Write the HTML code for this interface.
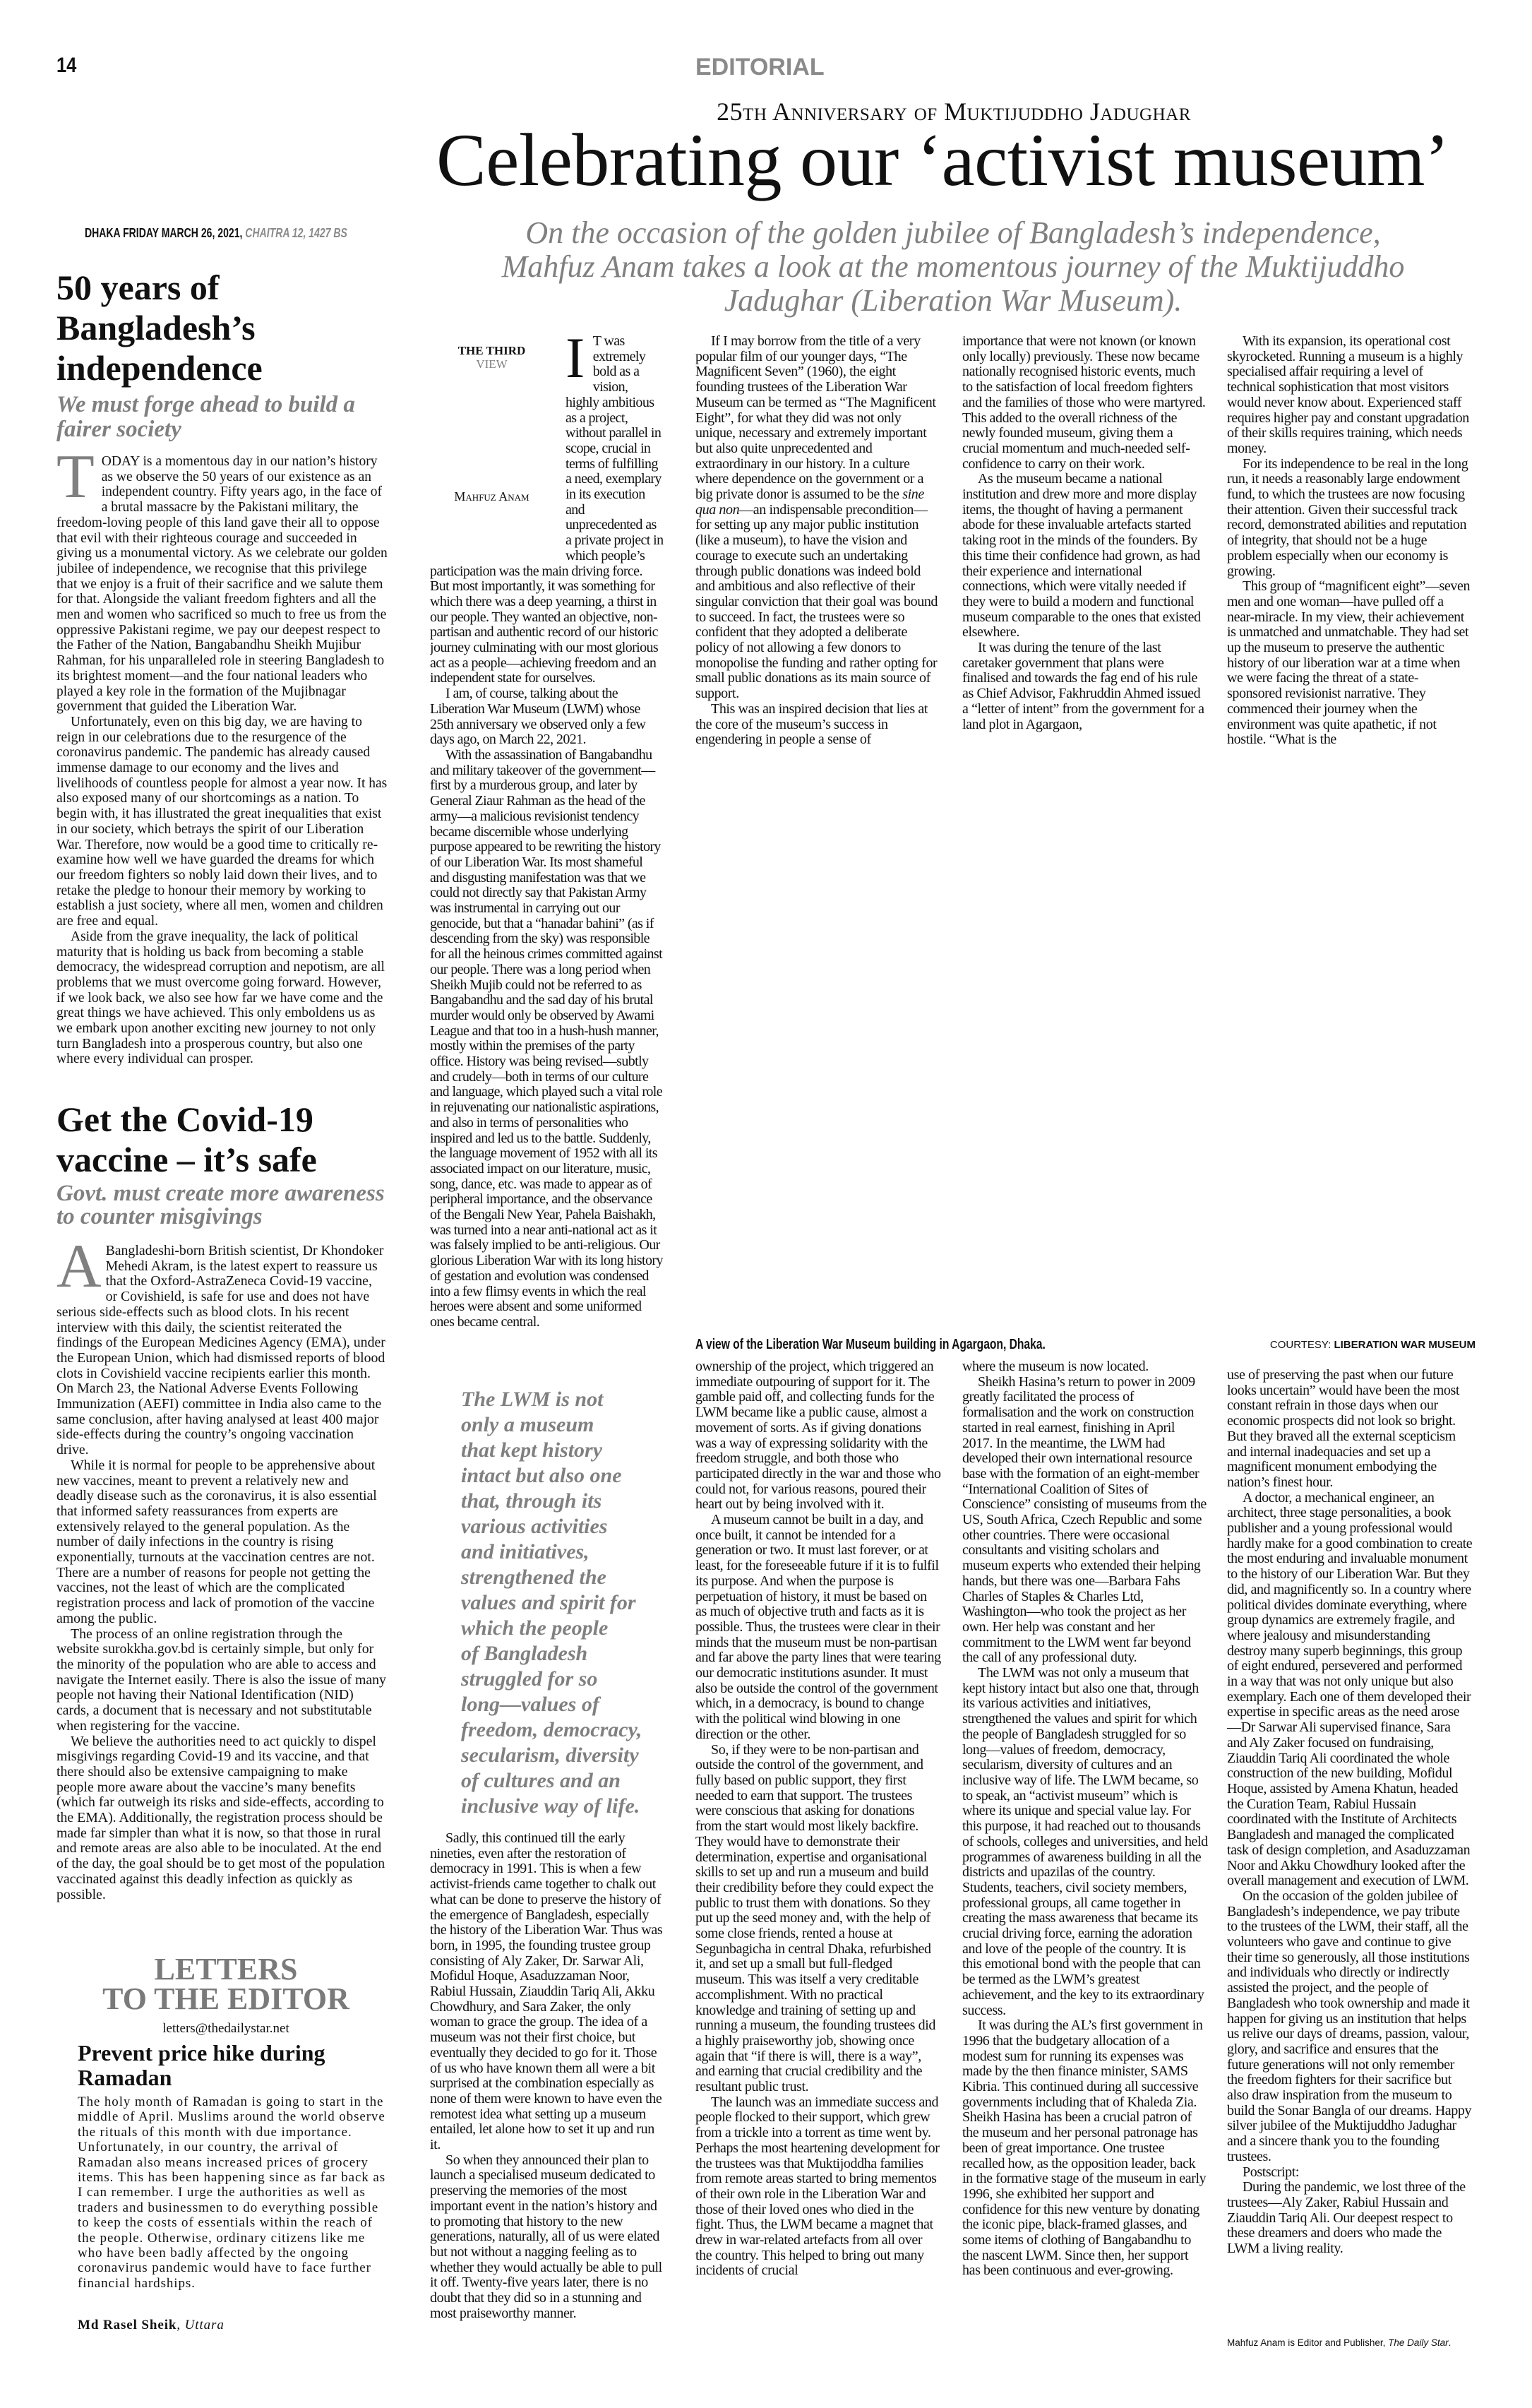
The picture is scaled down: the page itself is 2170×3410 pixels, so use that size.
<!DOCTYPE html>
<html><head><meta charset="utf-8">
<style>
html,body{margin:0;padding:0;background:#fff;}
body{width:2170px;height:3410px;position:relative;overflow:hidden;font-family:"Liberation Serif",serif;color:#111;}
.a{position:absolute;}
.col{position:absolute;overflow:hidden;font-size:20px;line-height:21.7px;letter-spacing:-0.4px;}
.col p{margin:0;text-indent:22px;}
.col p.ni{text-indent:0;}
.lc{position:absolute;overflow:hidden;font-size:19.8px;line-height:21.7px;}
.lc p{margin:0;text-indent:20px;}
.lc p.ni{text-indent:0;}
.gray{color:#808080;}
</style></head><body>

<div class="a" style="left:80px;top:78px;font-family:'Liberation Sans',sans-serif;font-weight:bold;font-size:30px;line-height:30px;transform:scaleX(0.85);transform-origin:left;">14</div>
<div class="a" style="left:985px;top:78px;font-family:'Liberation Sans',sans-serif;font-weight:bold;font-size:34px;line-height:34px;color:#8a8a8a;">EDITORIAL</div>

<div class="a" style="left:0;width:2702px;top:138px;text-align:center;font-size:36px;line-height:40px;font-variant:small-caps;letter-spacing:0.5px;white-space:nowrap;">25th Anniversary of Muktijuddho Jadughar</div>

<div class="a" style="left:618px;top:174px;font-size:106px;line-height:106px;white-space:nowrap;letter-spacing:-0.5px;">Celebrating our ‘activist museum’</div>

<div class="a" style="left:550px;width:1600px;top:306px;text-align:center;font-style:italic;font-size:44px;line-height:48px;color:#808080;white-space:nowrap;">On the occasion of the golden jubilee of Bangladesh’s independence,<br>Mahfuz Anam takes a look at the momentous journey of the Muktijuddho<br>Jadughar (Liberation War Museum).</div>

<div class="a" style="left:120px;top:319px;font-family:'Liberation Sans',sans-serif;font-weight:bold;font-size:18px;line-height:22px;white-space:nowrap;transform:scaleX(0.78);transform-origin:left;">DHAKA FRIDAY MARCH 26, 2021, <i style="color:#8a8a8a">CHAITRA 12, 1427 BS</i></div>

<div class="a" style="left:80px;top:379px;width:480px;font-weight:bold;font-size:50px;line-height:57px;">50 years of<br>Bangladesh’s<br>independence</div>
<div class="a" style="left:80px;top:556px;width:480px;font-weight:bold;font-style:italic;font-size:33px;line-height:35px;color:#808080;">We must forge ahead to build a<br>fairer society</div>
<div class="lc" style="left:80px;top:643px;width:470px;height:870px;font-size:19.5px;">
<p class="ni"><span style="float:left;font-size:88px;line-height:62px;height:64px;color:#808080;margin:2px 10px 0 0;">T</span>ODAY is a momentous day in our nation’s history as we observe the 50 years of our existence as an independent country. Fifty years ago, in the face of a brutal massacre by the Pakistani military, the freedom-loving people of this land gave their all to oppose that evil with their righteous courage and succeeded in giving us a monumental victory. As we celebrate our golden jubilee of independence, we recognise that this privilege that we enjoy is a fruit of their sacrifice and we salute them for that. Alongside the valiant freedom fighters and all the men and women who sacrificed so much to free us from the oppressive Pakistani regime, we pay our deepest respect to the Father of the Nation, Bangabandhu Sheikh Mujibur Rahman, for his unparalleled role in steering Bangladesh to its brightest moment—and the four national leaders who played a key role in the formation of the Mujibnagar government that guided the Liberation War.</p>
<p>Unfortunately, even on this big day, we are having to reign in our celebrations due to the resurgence of the coronavirus pandemic. The pandemic has already caused immense damage to our economy and the lives and livelihoods of countless people for almost a year now. It has also exposed many of our shortcomings as a nation. To begin with, it has illustrated the great inequalities that exist in our society, which betrays the spirit of our Liberation War. Therefore, now would be a good time to critically re-examine how well we have guarded the dreams for which our freedom fighters so nobly laid down their lives, and to retake the pledge to honour their memory by working to establish a just society, where all men, women and children are free and equal.</p>
<p>Aside from the grave inequality, the lack of political maturity that is holding us back from becoming a stable democracy, the widespread corruption and nepotism, are all problems that we must overcome going forward. However, if we look back, we also see how far we have come and the great things we have achieved. This only emboldens us as we embark upon another exciting new journey to not only turn Bangladesh into a prosperous country, but also one where every individual can prosper.</p>
</div>

<div class="a" style="left:80px;top:1557px;width:480px;font-weight:bold;font-size:50px;line-height:57px;">Get the Covid-19<br>vaccine – it’s safe</div>
<div class="a" style="left:80px;top:1674px;width:480px;font-weight:bold;font-style:italic;font-size:33px;line-height:33px;color:#808080;">Govt. must create more awareness<br>to counter misgivings</div>
<div class="lc" style="left:80px;top:1761px;width:468px;height:935px;">
<p class="ni"><span style="float:left;font-size:88px;line-height:62px;height:64px;color:#808080;margin:2px 6px 0 0;">A</span>Bangladeshi-born British scientist, Dr Khondoker Mehedi Akram, is the latest expert to reassure us that the Oxford-AstraZeneca Covid-19 vaccine, or Covishield, is safe for use and does not have serious side-effects such as blood clots. In his recent interview with this daily, the scientist reiterated the findings of the European Medicines Agency (EMA), under the European Union, which had dismissed reports of blood clots in Covishield vaccine recipients earlier this month. On March 23, the National Adverse Events Following Immunization (AEFI) committee in India also came to the same conclusion, after having analysed at least 400 major side-effects during the country’s ongoing vaccination drive.</p>
<p>While it is normal for people to be apprehensive about new vaccines, meant to prevent a relatively new and deadly disease such as the coronavirus, it is also essential that informed safety reassurances from experts are extensively relayed to the general population. As the number of daily infections in the country is rising exponentially, turnouts at the vaccination centres are not. There are a number of reasons for people not getting the vaccines, not the least of which are the complicated registration process and lack of promotion of the vaccine among the public.</p>
<p>The process of an online registration through the website surokkha.gov.bd is certainly simple, but only for the minority of the population who are able to access and navigate the Internet easily. There is also the issue of many people not having their National Identification (NID) cards, a document that is necessary and not substitutable when registering for the vaccine.</p>
<p>We believe the authorities need to act quickly to dispel misgivings regarding Covid-19 and its vaccine, and that there should also be extensive campaigning to make people more aware about the vaccine’s many benefits (which far outweigh its risks and side-effects, according to the EMA). Additionally, the registration process should be made far simpler than what it is now, so that those in rural and remote areas are also able to be inoculated. At the end of the day, the goal should be to get most of the population vaccinated against this deadly infection as quickly as possible.</p>
</div>

<div class="a" style="left:80px;width:480px;top:2768px;text-align:center;font-weight:bold;font-size:44px;line-height:42px;color:#7a7a7a;">LETTERS<br>TO THE EDITOR</div>
<div class="a" style="left:80px;width:480px;top:2862px;text-align:center;font-size:19px;line-height:22px;">letters@thedailystar.net</div>
<div class="a" style="left:110px;top:2890px;width:460px;font-weight:bold;font-size:32px;line-height:35px;">Prevent price hike during<br>Ramadan</div>
<div class="a" style="left:110px;top:2966px;width:440px;font-size:19px;line-height:21.4px;letter-spacing:0.9px;">The holy month of Ramadan is going to start in the middle of April. Muslims around the world observe the rituals of this month with due importance. Unfortunately, in our country, the arrival of Ramadan also means increased prices of grocery items. This has been happening since as far back as I can remember. I urge the authorities as well as traders and businessmen to do everything possible to keep the costs of essentials within the reach of the people. Otherwise, ordinary citizens like me who have been badly affected by the ongoing coronavirus pandemic would have to face further financial hardships.</div>
<div class="a" style="left:110px;top:3282px;font-size:19px;line-height:22px;letter-spacing:0.9px;"><b>Md Rasel Sheik</b>, <i>Uttara</i></div>

<div class="col" style="left:609px;top:473px;width:332px;height:1447px;letter-spacing:-0.6px;">
<div style="float:left;width:192px;height:304px;position:relative;">
<div style="position:absolute;left:0;width:175px;top:14px;text-align:center;font-weight:bold;font-size:17px;line-height:19px;letter-spacing:0;">THE THIRD<br><span style="color:#808080;font-weight:normal;">VIEW</span></div>
<div style="position:absolute;left:0;width:175px;top:220px;text-align:center;font-size:18px;line-height:20px;font-variant:small-caps;letter-spacing:0;">Mahfuz Anam</div>
</div>
<p class="ni"><span style="float:left;font-size:82px;line-height:60px;height:62px;margin:4px 12px 0 0;">I</span>T was extremely bold as a vision, highly ambitious as a project, without parallel in scope, crucial in terms of fulfilling a need, exemplary in its execution and unprecedented as a private project in which people’s participation was the main driving force. But most importantly, it was something for which there was a deep yearning, a thirst in our people. They wanted an objective, non-partisan and authentic record of our historic journey culminating with our most glorious act as a people—achieving freedom and an independent state for ourselves.</p>
<p>I am, of course, talking about the Liberation War Museum (LWM) whose 25th anniversary we observed only a few days ago, on March 22, 2021.</p>
<p>With the assassination of Bangabandhu and military takeover of the government—first by a murderous group, and later by General Ziaur Rahman as the head of the army—a malicious revisionist tendency became discernible whose underlying purpose appeared to be rewriting the history of our Liberation War. Its most shameful and disgusting manifestation was that we could not directly say that Pakistan Army was instrumental in carrying out our genocide, but that a “hanadar bahini” (as if descending from the sky) was responsible for all the heinous crimes committed against our people. There was a long period when Sheikh Mujib could not be referred to as Bangabandhu and the sad day of his brutal murder would only be observed by Awami League and that too in a hush-hush manner, mostly within the premises of the party office. History was being revised—subtly and crudely—both in terms of our culture and language, which played such a vital role in rejuvenating our nationalistic aspirations, and also in terms of personalities who inspired and led us to the battle. Suddenly, the language movement of 1952 with all its associated impact on our literature, music, song, dance, etc. was made to appear as of peripheral importance, and the observance of the Bengali New Year, Pahela Baishakh, was turned into a near anti-national act as it was falsely implied to be anti-religious. Our glorious Liberation War with its long history of gestation and evolution was condensed into a few flimsy events in which the real heroes were absent and some uniformed ones became central.</p>
</div>

<div class="a" style="left:653px;top:1964px;width:300px;font-weight:bold;font-style:italic;font-size:30px;line-height:36px;color:#808080;white-space:nowrap;">The LWM is not<br>only a museum<br>that kept history<br>intact but also one<br>that, through its<br>various activities<br>and initiatives,<br>strengthened the<br>values and spirit for<br>which the people<br>of Bangladesh<br>struggled for so<br>long—values of<br>freedom, democracy,<br>secularism, diversity<br>of cultures and an<br>inclusive way of life.</div>

<div class="col" style="left:609px;top:2593px;width:330px;height:765px;">
<p>Sadly, this continued till the early nineties, even after the restoration of democracy in 1991. This is when a few activist-friends came together to chalk out what can be done to preserve the history of the emergence of Bangladesh, especially the history of the Liberation War. Thus was born, in 1995, the founding trustee group consisting of Aly Zaker, Dr. Sarwar Ali, Mofidul Hoque, Asaduzzaman Noor, Rabiul Hussain, Ziauddin Tariq Ali, Akku Chowdhury, and Sara Zaker, the only woman to grace the group. The idea of a museum was not their first choice, but eventually they decided to go for it. Those of us who have known them all were a bit surprised at the combination especially as none of them were known to have even the remotest idea what setting up a museum entailed, let alone how to set it up and run it.</p>
<p>So when they announced their plan to launch a specialised museum dedicated to preserving the memories of the most important event in the nation’s history and to promoting that history to the new generations, naturally, all of us were elated but not without a nagging feeling as to whether they would actually be able to pull it off. Twenty-five years later, there is no doubt that they did so in a stunning and most praiseworthy manner.</p>
</div>

<div class="col" style="left:985px;top:473px;width:348px;height:610px;">
<p>If I may borrow from the title of a very popular film of our younger days, “The Magnificent Seven” (1960), the eight founding trustees of the Liberation War Museum can be termed as “The Magnificent Eight”, for what they did was not only unique, necessary and extremely important but also quite unprecedented and extraordinary in our history. In a culture where dependence on the government or a big private donor is assumed to be the <i>sine qua non</i>—an indispensable precondition—for setting up any major public institution (like a museum), to have the vision and courage to execute such an undertaking through public donations was indeed bold and ambitious and also reflective of their singular conviction that their goal was bound to succeed. In fact, the trustees were so confident that they adopted a deliberate policy of not allowing a few donors to monopolise the funding and rather opting for small public donations as its main source of support.</p>
<p>This was an inspired decision that lies at the core of the museum’s success in engendering in people a sense of</p>
</div>

<div class="col" style="left:1363px;top:473px;width:348px;height:610px;">
<p class="ni">importance that were not known (or known only locally) previously. These now became nationally recognised historic events, much to the satisfaction of local freedom fighters and the families of those who were martyred. This added to the overall richness of the newly founded museum, giving them a crucial momentum and much-needed self-confidence to carry on their work.</p>
<p>As the museum became a national institution and drew more and more display items, the thought of having a permanent abode for these invaluable artefacts started taking root in the minds of the founders. By this time their confidence had grown, as had their experience and international connections, which were vitally needed if they were to build a modern and functional museum comparable to the ones that existed elsewhere.</p>
<p>It was during the tenure of the last caretaker government that plans were finalised and towards the fag end of his rule as Chief Advisor, Fakhruddin Ahmed issued a “letter of intent” from the government for a land plot in Agargaon,</p>
</div>

<div class="col" style="left:1738px;top:473px;width:348px;height:605px;">
<p>With its expansion, its operational cost skyrocketed. Running a museum is a highly specialised affair requiring a level of technical sophistication that most visitors would never know about. Experienced staff requires higher pay and constant upgradation of their skills requires training, which needs money.</p>
<p>For its independence to be real in the long run, it needs a reasonably large endowment fund, to which the trustees are now focusing their attention. Given their successful track record, demonstrated abilities and reputation of integrity, that should not be a huge problem especially when our economy is growing.</p>
<p>This group of “magnificent eight”—seven men and one woman—have pulled off a near-miracle. In my view, their achievement is unmatched and unmatchable. They had set up the museum to preserve the authentic history of our liberation war at a time when we were facing the threat of a state-sponsored revisionist narrative. They commenced their journey when the environment was quite apathetic, if not hostile. “What is the</p>
</div>

<div class="a" style="left:985px;top:1892px;font-family:'Liberation Sans',sans-serif;font-weight:bold;font-size:20px;line-height:24px;white-space:nowrap;transform:scaleX(0.78);transform-origin:left;">A view of the Liberation War Museum building in Agargaon, Dhaka.</div>
<div class="a" style="right:80px;top:1896px;font-family:'Liberation Sans',sans-serif;font-size:15px;line-height:18px;white-space:nowrap;">COURTESY: <b>LIBERATION WAR MUSEUM</b></div>

<div class="col" style="left:985px;top:1925px;width:348px;height:1433px;">
<p class="ni">ownership of the project, which triggered an immediate outpouring of support for it. The gamble paid off, and collecting funds for the LWM became like a public cause, almost a movement of sorts. As if giving donations was a way of expressing solidarity with the freedom struggle, and both those who participated directly in the war and those who could not, for various reasons, poured their heart out by being involved with it.</p>
<p>A museum cannot be built in a day, and once built, it cannot be intended for a generation or two. It must last forever, or at least, for the foreseeable future if it is to fulfil its purpose. And when the purpose is perpetuation of history, it must be based on as much of objective truth and facts as it is possible. Thus, the trustees were clear in their minds that the museum must be non-partisan and far above the party lines that were tearing our democratic institutions asunder. It must also be outside the control of the government which, in a democracy, is bound to change with the political wind blowing in one direction or the other.</p>
<p>So, if they were to be non-partisan and outside the control of the government, and fully based on public support, they first needed to earn that support. The trustees were conscious that asking for donations from the start would most likely backfire. They would have to demonstrate their determination, expertise and organisational skills to set up and run a museum and build their credibility before they could expect the public to trust them with donations. So they put up the seed money and, with the help of some close friends, rented a house at Segunbagicha in central Dhaka, refurbished it, and set up a small but full-fledged museum. This was itself a very creditable accomplishment. With no practical knowledge and training of setting up and running a museum, the founding trustees did a highly praiseworthy job, showing once again that “if there is will, there is a way”, and earning that crucial credibility and the resultant public trust.</p>
<p>The launch was an immediate success and people flocked to their support, which grew from a trickle into a torrent as time went by. Perhaps the most heartening development for the trustees was that Muktijoddha families from remote areas started to bring mementos of their own role in the Liberation War and those of their loved ones who died in the fight. Thus, the LWM became a magnet that drew in war-related artefacts from all over the country. This helped to bring out many incidents of crucial</p>
</div>

<div class="col" style="left:1363px;top:1925px;width:348px;height:1433px;">
<p class="ni">where the museum is now located.</p>
<p>Sheikh Hasina’s return to power in 2009 greatly facilitated the process of formalisation and the work on construction started in real earnest, finishing in April 2017. In the meantime, the LWM had developed their own international resource base with the formation of an eight-member “International Coalition of Sites of Conscience” consisting of museums from the US, South Africa, Czech Republic and some other countries. There were occasional consultants and visiting scholars and museum experts who extended their helping hands, but there was one—Barbara Fahs Charles of Staples &amp; Charles Ltd, Washington—who took the project as her own. Her help was constant and her commitment to the LWM went far beyond the call of any professional duty.</p>
<p>The LWM was not only a museum that kept history intact but also one that, through its various activities and initiatives, strengthened the values and spirit for which the people of Bangladesh struggled for so long—values of freedom, democracy, secularism, diversity of cultures and an inclusive way of life. The LWM became, so to speak, an “activist museum” which is where its unique and special value lay. For this purpose, it had reached out to thousands of schools, colleges and universities, and held programmes of awareness building in all the districts and upazilas of the country. Students, teachers, civil society members, professional groups, all came together in creating the mass awareness that became its crucial driving force, earning the adoration and love of the people of the country. It is this emotional bond with the people that can be termed as the LWM’s greatest achievement, and the key to its extraordinary success.</p>
<p>It was during the AL’s first government in 1996 that the budgetary allocation of a modest sum for running its expenses was made by the then finance minister, SAMS Kibria. This continued during all successive governments including that of Khaleda Zia. Sheikh Hasina has been a crucial patron of the museum and her personal patronage has been of great importance. One trustee recalled how, as the opposition leader, back in the formative stage of the museum in early 1996, she exhibited her support and confidence for this new venture by donating the iconic pipe, black-framed glasses, and some items of clothing of Bangabandhu to the nascent LWM. Since then, her support has been continuous and ever-growing.</p>
</div>

<div class="col" style="left:1738px;top:1937px;width:348px;height:1362px;">
<p class="ni">use of preserving the past when our future looks uncertain” would have been the most constant refrain in those days when our economic prospects did not look so bright. But they braved all the external scepticism and internal inadequacies and set up a magnificent monument embodying the nation’s finest hour.</p>
<p>A doctor, a mechanical engineer, an architect, three stage personalities, a book publisher and a young professional would hardly make for a good combination to create the most enduring and invaluable monument to the history of our Liberation War. But they did, and magnificently so. In a country where political divides dominate everything, where group dynamics are extremely fragile, and where jealousy and misunderstanding destroy many superb beginnings, this group of eight endured, persevered and performed in a way that was not only unique but also exemplary. Each one of them developed their expertise in specific areas as the need arose—Dr Sarwar Ali supervised finance, Sara and Aly Zaker focused on fundraising, Ziauddin Tariq Ali coordinated the whole construction of the new building, Mofidul Hoque, assisted by Amena Khatun, headed the Curation Team, Rabiul Hussain coordinated with the Institute of Architects Bangladesh and managed the complicated task of design completion, and Asaduzzaman Noor and Akku Chowdhury looked after the overall management and execution of LWM.</p>
<p>On the occasion of the golden jubilee of Bangladesh’s independence, we pay tribute to the trustees of the LWM, their staff, all the volunteers who gave and continue to give their time so generously, all those institutions and individuals who directly or indirectly assisted the project, and the people of Bangladesh who took ownership and made it happen for giving us an institution that helps us relive our days of dreams, passion, valour, glory, and sacrifice and ensures that the future generations will not only remember the freedom fighters for their sacrifice but also draw inspiration from the museum to build the Sonar Bangla of our dreams. Happy silver jubilee of the Muktijuddho Jadughar and a sincere thank you to the founding trustees.</p>
<p>Postscript:</p>
<p>During the pandemic, we lost three of the trustees—Aly Zaker, Rabiul Hussain and Ziauddin Tariq Ali. Our deepest respect to these dreamers and doers who made the LWM a living reality.</p>
</div>
<div class="a" style="left:1738px;top:3309px;font-family:'Liberation Sans',sans-serif;font-size:13.5px;line-height:17px;white-space:nowrap;">Mahfuz Anam is Editor and Publisher, <i>The Daily Star</i>.</div>

</body></html>
